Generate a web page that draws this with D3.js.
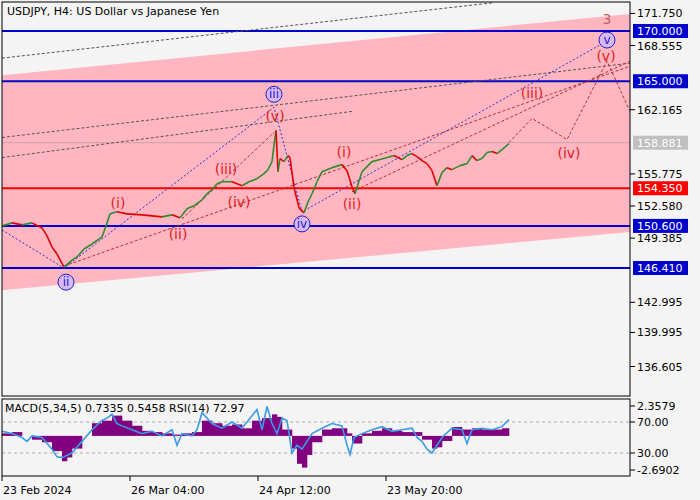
<!DOCTYPE html>
<html>
<head>
<meta charset="utf-8">
<script src="https://cdn.jsdelivr.net/npm/d3@7"></script>
<style>
  html, body { margin: 0; padding: 0; background: #f4f4f4; }
  svg { display: block; }
  text { font-family: "DejaVu Sans", sans-serif; font-size: 11px; }
</style>
</head>
<body>
<svg id="chart" width="700" height="500"></svg>
<script>
// bar index of each sample, close price
var bars   = [0,10,20,30,40,45,50,55,62,70,75,82,90,100,104,108,115,125,140,150,160,170,178,185,192,200,205,210,215,220,230,240,247,255,262,266,270,272,274,276,278,282,286,288,292,297,302,306,310,315,320,330,340,345,350,353,360,370,378,385,392,400,405,410,415,420,425,430,435,440,445,450,458,465,470,475,480,485,490,495,500,507];
var closes = [150.6,150.9,150.7,150.9,150.4,149.6,148.5,147.8,146.5,147.2,147.5,148.3,148.8,149.5,150.6,151.8,152.0,151.8,151.7,151.6,151.5,151.7,151.4,152.3,152.6,153.2,153.8,154.2,154.8,155.0,155.0,154.6,155.0,155.3,155.8,156.2,157.0,158.6,160.1,156.0,157.3,157.0,157.6,157.4,154.4,152.4,151.9,153.0,153.8,155.0,156.0,156.4,156.7,156.1,154.5,153.8,156.0,157.0,157.2,157.4,157.6,157.2,157.6,157.8,157.5,157.1,156.8,156.1,154.6,155.9,156.4,156.2,156.6,156.8,157.6,157.1,157.3,157.9,158.0,157.8,158.2,158.8];

var macdBars = [0,10,20,30,40,50,60,65,70,80,90,100,110,120,130,140,150,160,170,180,190,200,210,220,230,240,250,260,270,275,280,290,295,300,305,310,320,330,340,345,350,360,370,380,390,400,410,420,430,435,440,450,460,470,480,490,500,507];
var macdVals = [0.2,0.3,0,-0.3,-0.5,-1.2,-2.0,-1.7,-1.0,0,1.0,1.2,1.6,1.2,0.8,0.4,0.3,0.2,0.1,0.2,0.3,1.2,1.0,0.8,0.9,0.6,1.2,1.4,1.7,1.5,0.5,-1.0,-2.2,-2.5,-1.5,-0.5,0.5,0.6,0.6,0.2,-0.6,0.2,0.4,0.6,0.4,0.3,0.3,-0.3,-1.0,-0.9,-0.4,0.7,0.5,0.6,0.5,0.5,0.6,0.7];

var rsiBars = [0,10,20,25,30,40,50,55,60,70,80,90,100,105,110,115,120,130,140,150,160,170,175,180,190,195,200,210,220,230,240,250,255,260,265,270,275,280,285,290,295,300,310,320,330,340,345,348,352,360,370,380,390,400,410,415,420,425,430,435,440,450,460,465,470,480,490,500,507];
var rsiVals = [58,55,50,45,52,50,35,25,24,30,45,60,72,75,80,68,65,60,55,58,52,60,40,55,52,60,82,68,62,70,62,78,86,60,90,68,55,75,72,30,40,35,55,62,68,65,40,28,50,55,60,64,58,60,62,50,45,35,30,40,50,62,60,42,60,62,60,64,73];

var priceTicks = [171.750, 168.555, 162.165, 155.775, 152.580, 149.385, 142.995, 139.995, 136.605];
var levels = [
  {v: 170.000, color: "#0000cc", line: true},
  {v: 165.000, color: "#0000cc", line: true},
  {v: 158.881, color: "#c0c0c0", line: false},
  {v: 154.350, color: "#ff0000", line: true},
  {v: 150.600, color: "#0000cc", line: true},
  {v: 146.410, color: "#0000cc", line: true}
];
var dateLabels = [[0, "23 Feb 2024"], [128, "26 Mar 04:00"], [256, "24 Apr 12:00"], [384, "23 May 20:00"]];

// channel and wave drawings: [bar, price]
var channelTop = [[0, 165.6], [628, 171.7]];
var channelBot = [[0, 144.2], [628, 150.0]];
var blackDash = [[[0, 167.3], [490, 172.8]], [[0, 159.4], [628, 166.8]], [[0, 157.4], [350, 162.0]]];
var blueDash = [[0, 150.2], [62, 146.4], [272, 162.4], [300, 152.0], [605, 169.0]];
var redDash = [[[62, 146.6], [628, 166.5]], [[350, 154.0], [628, 167.0]], [[180, 151.3], [272, 159.9]]];
var projection = [[507, 158.9], [530, 161.3], [565, 159.2], [605, 167.0], [628, 162.0]];
var waveLabels = [
  ["(i)", 116, 152.9, "r"], ["(ii)", 176, 149.8, "r"], ["(iii)", 224, 156.3, "r"], ["(iv)", 237, 153.0, "r"],
  ["(v)", 273, 161.5, "r"], ["(i)", 342, 158.0, "r"], ["(ii)", 350, 152.8, "r"], ["(iii)", 530, 163.8, "r"],
  ["(iv)", 567, 157.9, "r"], ["(v)", 604, 167.5, "r"], ["3", 605, 171.2, "b3"],
  ["ii", 64, 145.0, "c"], ["iii", 272, 163.7, "c"], ["iv", 300, 150.8, "c"], ["v", 605, 169.1, "c"]
];

var svg = d3.select("#chart");
var x = d3.scaleLinear().domain([0, 628]).range([2, 630]);
var y = d3.scaleLinear().domain([170, 146.41]).range([31, 268]);
var yM = d3.scaleLinear().domain([2.3579, -2.6902]).range([406, 470]);
var yR = d3.scaleLinear().domain([70, 30]).range([422, 453]);

var main = svg.append("g");
main.append("defs").append("clipPath").attr("id", "clipMain")
  .append("rect").attr("x", 2).attr("y", 2).attr("width", 628).attr("height", 394);
var plot = main.append("g").attr("clip-path", "url(#clipMain)");

plot.append("polygon")
  .attr("points", [channelTop[0], channelTop[1], channelBot[1], channelBot[0]]
    .map(function(p) { return x(p[0]) + "," + y(p[1]); }).join(" "))
  .attr("fill", "#ffb6c1");

var line = d3.line().x(function(d) { return x(d[0]); }).y(function(d) { return y(d[1]); });

levels.forEach(function(l) {
  plot.append("line").attr("x1", 2).attr("x2", 630).attr("y1", y(l.v)).attr("y2", y(l.v))
    .attr("stroke", l.line ? l.color : "#c8a0a8").attr("stroke-width", l.line ? 2 : 1);
});

blackDash.forEach(function(s) {
  plot.append("path").attr("d", line(s)).attr("fill", "none").attr("stroke", "#555")
    .attr("stroke-width", 1).attr("stroke-dasharray", "3,2");
});
redDash.forEach(function(s) {
  plot.append("path").attr("d", line(s)).attr("fill", "none").attr("stroke", "#b03030")
    .attr("stroke-width", 1).attr("stroke-dasharray", "3,2");
});
plot.append("path").attr("d", line(blueDash)).attr("fill", "none").attr("stroke", "#3030d0")
  .attr("stroke-width", 1).attr("stroke-dasharray", "2,2");
plot.append("path").attr("d", line(projection)).attr("fill", "none").attr("stroke", "#b03030")
  .attr("stroke-width", 1).attr("stroke-dasharray", "3,2");

// price path, coloured by direction
for (var i = 1; i < bars.length; i++) {
  plot.append("line")
    .attr("x1", x(bars[i - 1])).attr("y1", y(closes[i - 1]))
    .attr("x2", x(bars[i])).attr("y2", y(closes[i]))
    .attr("stroke", closes[i] >= closes[i - 1] ? "#2e8b2e" : "#e00000")
    .attr("stroke-width", 1.6);
}

waveLabels.forEach(function(w) {
  var px = x(w[1]), py = y(w[2]);
  if (w[3] === "c") {
    plot.append("circle").attr("cx", px).attr("cy", py).attr("r", 8)
      .attr("fill", "#d8b8f0").attr("stroke", "#2020d0");
    plot.append("text").attr("x", px).attr("y", py + 4).attr("text-anchor", "middle")
      .attr("fill", "#2020d0").style("font-size", "12px").text(w[0]);
  } else {
    plot.append("text").attr("x", px).attr("y", py + 5).attr("text-anchor", "middle")
      .attr("fill", w[3] === "b3" ? "#c06060" : "#e02020").style("font-size", "14px").text(w[0]);
  }
});

main.append("rect").attr("x", 2).attr("y", 2).attr("width", 628).attr("height", 394)
  .attr("fill", "none").attr("stroke", "#000");
main.append("text").attr("x", 7).attr("y", 15).attr("fill", "#000").text("USDJPY, H4:  US Dollar vs Japanese Yen");

// right price axis
priceTicks.forEach(function(t) {
  main.append("line").attr("x1", 630).attr("x2", 635).attr("y1", y(t)).attr("y2", y(t)).attr("stroke", "#000");
  main.append("text").attr("x", 637).attr("y", y(t) + 4).attr("fill", "#000").text(t.toFixed(3));
});
levels.forEach(function(l) {
  main.append("rect").attr("x", 633).attr("y", y(l.v) - 7).attr("width", 55).attr("height", 14).attr("fill", l.color);
  main.append("text").attr("x", 637).attr("y", y(l.v) + 4).attr("fill", "#fff").text(l.v.toFixed(3));
});

// indicator panel
var ind = svg.append("g");
ind.append("defs").append("clipPath").attr("id", "clipInd")
  .append("rect").attr("x", 2).attr("y", 399).attr("width", 628).attr("height", 77);
var ip = ind.append("g").attr("clip-path", "url(#clipInd)");
[70, 30].forEach(function(r) {
  ip.append("line").attr("x1", 2).attr("x2", 630).attr("y1", yR(r)).attr("y2", yR(r))
    .attr("stroke", "#aaa").attr("stroke-dasharray", "3,3");
});
macdBars.forEach(function(b, i) {
  if (i === macdBars.length - 1) return;
  var w = x(macdBars[i + 1]) - x(b);
  var v = macdVals[i];
  ip.append("rect").attr("x", x(b)).attr("width", w + 0.3)
    .attr("y", Math.min(yM(v), yM(0))).attr("height", Math.abs(yM(v) - yM(0)))
    .attr("fill", "#800080");
});
ip.append("path")
  .attr("d", d3.line().x(function(d, i) { return x(rsiBars[i]); }).y(function(d) { return yR(d); })(rsiVals))
  .attr("fill", "none").attr("stroke", "#3a9be8").attr("stroke-width", 1.6);
ind.append("rect").attr("x", 2).attr("y", 399).attr("width", 628).attr("height", 77)
  .attr("fill", "none").attr("stroke", "#000");
ind.append("text").attr("x", 5).attr("y", 412).attr("fill", "#000").text("MACD(5,34,5) 0.7335 0.5458 RSI(14) 72.97");
[[yM(2.3579), "2.3579"], [yR(70), "70.00"], [yR(30), "30.00"], [yM(-2.6902), "-2.6902"]].forEach(function(t) {
  ind.append("line").attr("x1", 630).attr("x2", 635).attr("y1", t[0]).attr("y2", t[0]).attr("stroke", "#000");
  ind.append("text").attr("x", 637).attr("y", t[0] + 4).attr("fill", "#000").text(t[1]);
});

// time axis
dateLabels.forEach(function(d) {
  ind.append("line").attr("x1", x(d[0])).attr("x2", x(d[0])).attr("y1", 476).attr("y2", 481).attr("stroke", "#000");
  ind.append("text").attr("x", x(d[0]) + 1).attr("y", 494).attr("fill", "#000").text(d[1]);
});
</script>
</body>
</html>
